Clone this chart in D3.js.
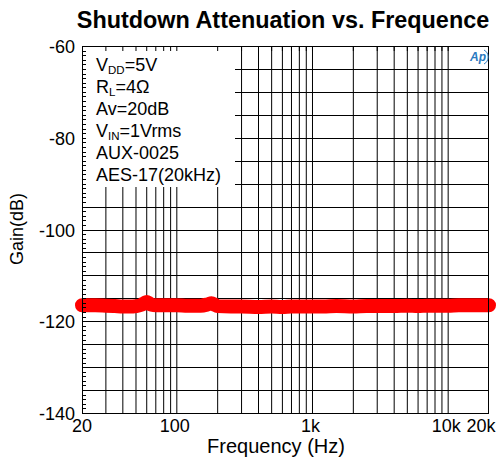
<!DOCTYPE html>
<html><head><meta charset="utf-8">
<script src="https://cdn.jsdelivr.net/npm/d3@7/dist/d3.min.js"></script>
<style>body{margin:0;background:#fff}svg{display:block;font-family:"Liberation Sans",Arial,sans-serif}</style>
</head><body>
<script>
const title = "Shutdown Attenuation vs. Frequence";
const xLabel = "Frequency (Hz)";
const yLabel = "Gain(dB)";
const xTickValues = [20, 100, 1000, 10000, 20000];
const xTickLabels = ["20", "100", "1k", "10k", "20k"];
const yTickValues = [-60, -80, -100, -120, -140];
const freq = [20, 25, 30, 35, 40, 45, 50, 55, 58, 60, 62, 65, 70, 80, 90, 100, 120, 150, 170, 180, 190, 200, 250, 300, 400, 500, 600, 700, 800, 1000, 1200, 1500, 2000, 2500, 3000, 4000, 5000, 6000, 7000, 8000, 10000, 12000, 15000, 18000, 20000];
const gain = [-116.5, -116.5, -116.6, -116.7, -116.8, -116.8, -116.7, -116.4, -116.0, -115.8, -116.0, -116.4, -116.5, -116.5, -116.5, -116.5, -116.6, -116.6, -116.3, -116.1, -116.4, -116.7, -116.8, -116.8, -116.9, -116.8, -116.9, -116.8, -116.8, -116.8, -116.8, -116.7, -116.8, -116.7, -116.7, -116.7, -116.6, -116.7, -116.6, -116.6, -116.6, -116.5, -116.5, -116.5, -116.5];
const legendLines = [
  [["V", false], ["DD", true], ["=5V", false]],
  [["R", false], ["L", true], ["=4Ω", false]],
  [["Av=20dB", false]],
  [["V", false], ["IN", true], ["=1Vrms", false]],
  [["AUX-0025", false]],
  [["AES-17(20kHz)", false]]
];

const W = 501, H = 461;
const m = {l: 82, t: 46, r: 12, b: 48};
const pw = W - m.l - m.r, ph = H - m.t - m.b;
const svg = d3.select("body").append("svg").attr("width", W).attr("height", H);
const x = d3.scaleLog().domain([20, 20000]).range([m.l, m.l + pw]);
const y = d3.scaleLinear().domain([-140, -60]).range([m.t + ph, m.t]);

// grid
const gridX = [];
[10, 100, 1000, 10000].forEach(d => { for (let k = 1; k < 10; k++) { const v = d * k; if (v > 20 && v < 20000) gridX.push(v); } });
const gridY = d3.range(-135, -60, 5);
const g = svg.append("g");
g.selectAll(".gx").data(gridX).join("line")
  .attr("x1", d => x(d)).attr("x2", d => x(d)).attr("y1", m.t).attr("y2", m.t + ph)
  .attr("stroke", "#000").attr("stroke-width", 1);
g.selectAll(".gy").data(gridY).join("line")
  .attr("x1", m.l).attr("x2", m.l + pw).attr("y1", d => Math.round(y(d)) + 0.5).attr("y2", d => Math.round(y(d)) + 0.5)
  .attr("stroke", "#000").attr("stroke-width", 1);

// data line
svg.append("path").datum(freq.map((f, i) => [f, gain[i]]))
  .attr("d", d3.line().x(d => x(d[0])).y(d => y(d[1])).curve(d3.curveMonotoneX))
  .attr("fill", "none").attr("stroke", "#ff0000").attr("stroke-width", 14)
  .attr("stroke-linecap", "round").attr("stroke-linejoin", "round");

// legend box
svg.append("rect").attr("x", m.l).attr("y", m.t).attr("width", 153).attr("height", 141).attr("fill", "#fff");
const lg = svg.append("g").attr("font-size", 18).attr("fill", "#000");
legendLines.forEach((parts, i) => {
  const t = lg.append("text").attr("x", 96).attr("y", 71 + i * 22);
  parts.forEach((p, j) => {
    const ts = t.append("tspan").text(p[0]);
    if (p[1]) ts.attr("font-size", 11.5).attr("dy", 3);
    else if (j > 0) ts.attr("dy", -3);
  });
});

// minor ticks
const minorY = d3.range(-139, -60, 1);
svg.selectAll(".my").data(minorY).join("line")
  .attr("x1", m.l).attr("x2", m.l + 4).attr("y1", d => Math.round(y(d)) + 0.5).attr("y2", d => Math.round(y(d)) + 0.5)
  .attr("stroke", "#000");
svg.selectAll(".mx").data(gridX).join("line")
  .attr("x1", d => x(d)).attr("x2", d => x(d)).attr("y1", m.t).attr("y2", m.t + 5)
  .attr("stroke", "#000");

// frame
svg.append("rect").attr("x", m.l + 0.5).attr("y", m.t + 0.5).attr("width", pw - 1).attr("height", ph)
  .attr("fill", "none").attr("stroke", "#000").attr("stroke-width", 1);

// axis labels
svg.selectAll(".xt").data(xTickValues).join("text")
  .attr("x", (d, i) => x(d) + (i === xTickValues.length - 1 ? -8 : (i === 0 ? 0 : -2)))
  .attr("y", 432).attr("text-anchor", "middle").attr("font-size", 18).text((d, i) => xTickLabels[i]);
svg.selectAll(".yt").data(yTickValues).join("text")
  .attr("x", 75).attr("y", d => y(d) + 7).attr("text-anchor", "end").attr("font-size", 18).text(d => d);

svg.append("text").attr("x", 276).attr("y", 453).attr("text-anchor", "middle").attr("font-size", 20).text(xLabel);
svg.append("text").attr("transform", "translate(23,229) rotate(-90)").attr("text-anchor", "middle").attr("font-size", 18).text(yLabel);
svg.append("text").attr("x", 283).attr("y", 28).attr("text-anchor", "middle").attr("font-size", 23.4).attr("font-weight", "bold").text(title);

// Ap logo
const logo = svg.append("g").attr("transform", "translate(478,57)");
logo.append("text").attr("x", 0).attr("y", 4).attr("text-anchor", "middle").attr("font-size", 12)
  .attr("font-style", "italic").attr("font-weight", "bold").attr("fill", "#2a7ac0").text("Ap");
logo.append("path").attr("d", "M6,-7 A8,8 0 0 1 6,7").attr("fill", "none").attr("stroke", "#2a7ac0").attr("stroke-width", 1);
</script>
</body></html>
